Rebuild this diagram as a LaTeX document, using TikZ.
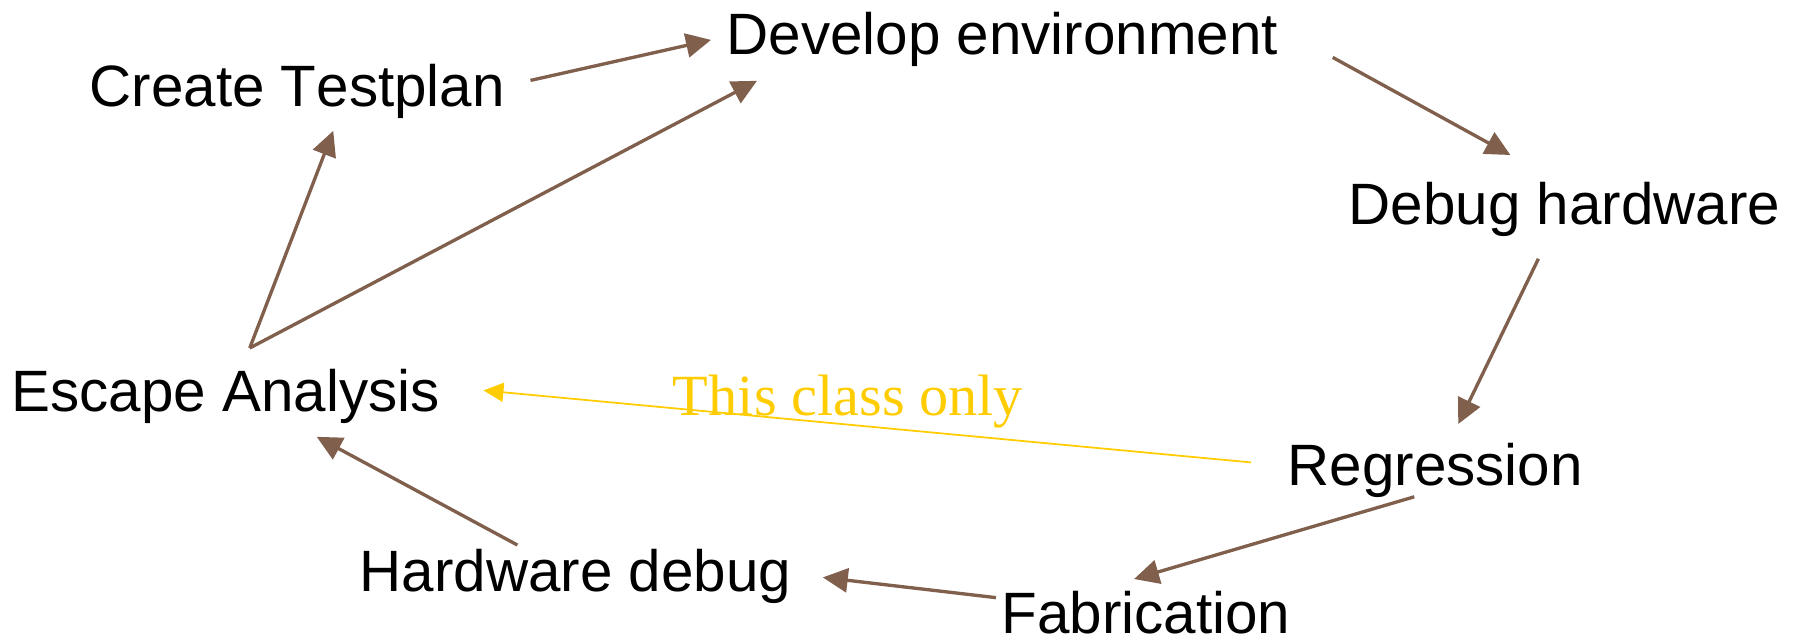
\documentclass[tikz,border=0pt]{standalone}
\usepackage{fontspec}
\setmainfont[Kerning=Off]{Liberation Sans}
\newfontfamily\serifface{Liberation Serif}
\usetikzlibrary{arrows.meta}
\definecolor{flowbrown}{RGB}{128,96,77}
\definecolor{noteyellow}{RGB}{255,204,0}

\begin{document}
\begin{tikzpicture}[x=1cm,y=1cm,
    step box/.style={anchor=base west,inner sep=0pt,font=\fontsize{16.6}{20}\selectfont},
    flow/.style={draw=flowbrown,line width=0.95pt,-{Triangle[length=0.25cm,width=0.24cm]}},
    classonly/.style={draw=noteyellow,line width=0.5pt,-{Triangle[length=0.2cm,width=0.19cm]}}]
  \useasboundingbox (0,0) rectangle (17.99,-6.44);
  \node[step box] (ct)  at (0.89,-1.07)  {Create Testplan};
  \node[step box] (de)  at (7.26,-0.55)  {Develop environment};
  \node[step box] (dh)  at (13.48,-2.25) {Debug hardware};
  \node[step box] (esc) at (0.11,-4.11)  {Escape Analysis};
  \node[step box] (reg) at (12.87,-4.85) {Regression};
  \node[step box] (hd)  at (3.59,-5.91)  {Hardware debug};
  \node[step box] (fab) at (10.01,-6.33) {Fabrication};
  \node[anchor=base,inner sep=0pt,text=noteyellow,font=\serifface\fontsize{16.6}{20}\selectfont] (note) at (8.48,-4.15) {This class only};
  % the loop
  \draw[flow] ([shift={(0.25,0.115)}]ct.east) -- ([shift={(-0.15,0)}]de.west);
  \draw[flow] ([shift={(0.24,0.20)}]esc.north) -- ([shift={(0.31,-0.13)}]de.south west);
  \draw[flow] ([shift={(0.24,0.20)}]esc.north) -- ([shift={(0.36,-0.11)}]ct.south);
  \draw[flow] ([shift={(0.54,-0.175)}]de.east) -- ([shift={(-0.54,0.27)}]dh.north);
  \draw[flow] ([shift={(-0.26,-0.21)}]dh.south) -- ([shift={(0.23,0.18)}]reg.north);
  \draw[flow] ([shift={(-0.21,0.01)}]reg.south) -- ([shift={(-0.12,0.11)}]fab.north);
  \draw[flow] ([shift={(-0.05,0.145)}]fab.west) -- ([shift={(0.31,-0.015)}]hd.east);
  \draw[flow] ([shift={(-0.58,0.03)}]hd.north) -- ([shift={(0.91,-0.13)}]esc.south);
  \draw[classonly] ([shift={(-0.36,0.075)}]reg.west) -- ([shift={(0.43,0.055)}]esc.east);
\end{tikzpicture}
\end{document}
